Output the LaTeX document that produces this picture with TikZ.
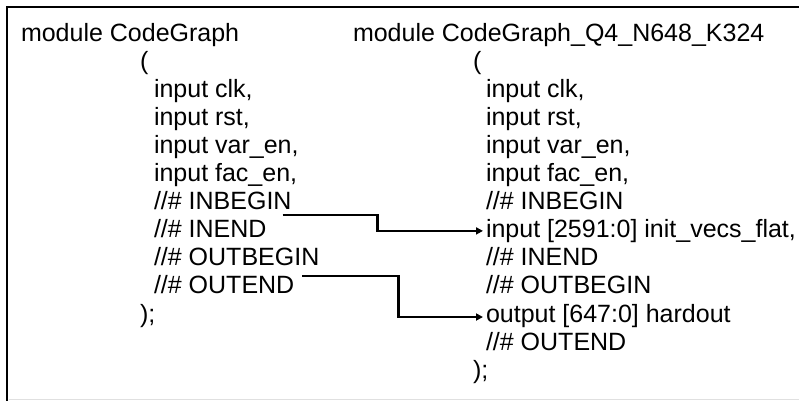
\documentclass[tikz,border=0pt]{standalone}
\usepackage{fontspec}
\setmainfont{Liberation Sans}
\usetikzlibrary{calc,arrows.meta}

\tikzset{
  codeline/.style={anchor=base west, inner sep=0pt, outer sep=0pt,
    font=\fontsize{25pt}{28pt}\selectfont},
  conn/.style={line width=2.4pt, -{Triangle[length=7pt,width=7pt]}},
  frame/.style={line width=2.6pt, draw=black}
}

\begin{document}
\begin{tikzpicture}[x=1pt,y=-1pt]
  \useasboundingbox (0,0) rectangle (799,400);
  \clip (0,0) rectangle (799,400);
  \fill[white] (0,0) rectangle (799,400);

  % outer frame (runs off the right and bottom edges)
  \draw[frame] (7,7) rectangle (810,410);
  \draw[line width=1pt, draw=black!12] (8.5,399.3) -- (799,399.3);

  % left module
  \node[codeline] (l0) at (21,41)    {module CodeGraph};
  \node[codeline] (l1) at (140,69.1) {(};
  \node[codeline] (l2) at (154,97.2) {input clk,};
  \node[codeline] (l3) at (154,125.3) {input rst,};
  \node[codeline] (l4) at (154,153.4) {input var\_en,};
  \node[codeline] (l5) at (154,181.5) {input fac\_en,};
  \node[codeline] (l6) at (154,209.6) {//\# INBEGIN};
  \node[codeline] (l7) at (154,237.7) {//\# INEND};
  \node[codeline] (l8) at (154,265.8) {//\# OUTBEGIN};
  \node[codeline] (l9) at (154,293.9) {//\# OUTEND};
  \node[codeline] (l10) at (140,322) {);};

  % right module
  \node[codeline] (r0) at (353,41)    {module CodeGraph\_Q4\_N648\_K324};
  \node[codeline] (r1) at (473,69.1) {(};
  \node[codeline] (r2) at (486,97.2) {input clk,};
  \node[codeline] (r3) at (486,125.3) {input rst,};
  \node[codeline] (r4) at (486,153.4) {input var\_en,};
  \node[codeline] (r5) at (486,181.5) {input fac\_en,};
  \node[codeline] (r6) at (486,209.6) {//\# INBEGIN};
  \node[codeline] (r7) at (486,237.7) {input [2591:0] init\_vecs\_flat,};
  \node[codeline] (r8) at (486,265.8) {//\# INEND};
  \node[codeline] (r9) at (486,293.9) {//\# OUTBEGIN};
  \node[codeline] (r10) at (486,322) {output [647:0] hardout};
  \node[codeline] (r11) at (486,350.1) {//\# OUTEND};
  \node[codeline] (r12) at (473,378.2) {);};

  % connector end points
  \coordinate (s1) at ($(l6.base east)+(-9,5.4)$);
  \coordinate (e1) at ($(r7.base west)+(-3,-6.8)$);
  \coordinate (s2) at ($(l8.base east)+(-17,10)$);
  \coordinate (e2) at ($(r10.base west)+(-3,-5)$);

  \draw[conn] (s1) -- ($(s1)+(95,0)$) |- (e1);
  \draw[conn] (s2) -- ($(s2)+(96,0)$) |- (e2);
\end{tikzpicture}
\end{document}
